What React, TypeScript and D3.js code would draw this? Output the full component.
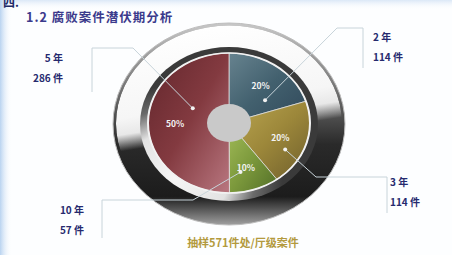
import React from 'react';
import * as d3 from 'd3';

const periods = ['2 年', '3 年', '10 年', '5 年'];
const counts = [114, 114, 57, 286];
const shares = ['20%', '20%', '10%', '50%'];
const title = '1.2 腐败案件潜伏期分析';
const footnote = '抽样571件处/厅级案件';

const W = 452;
const H = 255;
const cx = 229;
const cy = 123;
const rx = 81;
const ry = 70;
const k = ry / rx;

// slice fills (gradient stops), same order as the data
const sliceStops = [
  ['#67838f', '#42606e', '#30485a'],
  ['#bca852', '#9c873a', '#6e5e2c'],
  ['#a2bc58', '#7c993c', '#526e28'],
  ['#62262c', '#833a40', '#b97780'],
];

// leader layout: where the dot sits inside its slice, elbow, end of the stem, label anchor
const leaders = [
  { frac: 0.75, r: 44.6, elbow: [337, 28], stem: [363, 28, 68], text: [373, 41], anchor: 'start' },
  { frac: 0.65, r: 64, elbow: [316, 177], stem: [387, 177, 213], text: [390, 186], anchor: 'start' },
  { frac: 0.69, r: 58, elbow: [193, 200], stem: [102, 200, 238], text: [84, 214], anchor: 'end' },
  { frac: 0.64, r: 40, elbow: [133, 48], stem: [92, 48, 92], text: [63, 62], anchor: 'end' },
];

const App = () => {
  const pie = d3.pie<number>().sort(null).value((d) => d);
  const arcs = pie(counts);
  const arc = d3.arc<d3.PieArcDatum<number>>().innerRadius(0).outerRadius(rx);
  const labelArc = d3.arc<d3.PieArcDatum<number>>().innerRadius(54).outerRadius(54);

  const toScreen = (a: number, r: number) => [cx + r * Math.sin(a), cy - r * Math.cos(a) * k];

  const font = '"Noto Sans CJK SC", "Noto Sans", sans-serif';
  const leaderColor = 'rgb(200, 212, 218)';

  return (
    <svg width={W} height={H} style={{ position: 'absolute', left: 0, top: 0, display: 'block' }}>
      <defs>
        <linearGradient id="bgLeft" x1="0" y1="0" x2="1" y2="0">
          <stop offset="0" stopColor="#b9d3f0" />
          <stop offset="1" stopColor="#ffffff" stopOpacity="0" />
        </linearGradient>
        <linearGradient id="bgTop" x1="0" y1="0" x2="0" y2="1">
          <stop offset="0" stopColor="#dbe8f7" />
          <stop offset="1" stopColor="#ffffff" stopOpacity="0" />
        </linearGradient>
        <linearGradient id="body" x1="0" y1="0" x2="0" y2="1">
          <stop offset="0" stopColor="#c8c8c8" />
          <stop offset="0.3" stopColor="#7a7a7a" />
          <stop offset="0.6" stopColor="#2a2a2a" />
          <stop offset="0.86" stopColor="#1c1c1c" />
          <stop offset="1" stopColor="#a0a0a0" />
        </linearGradient>
        <linearGradient id="lip" gradientUnits="userSpaceOnUse" x1="229" y1="20" x2="260" y2="220">
          <stop offset="0" stopColor="#ffffff" />
          <stop offset="0.4" stopColor="#f6f6f6" />
          <stop offset="0.48" stopColor="#e8e8e8" />
          <stop offset="0.56" stopColor="#e8e8e8" stopOpacity="0" />
        </linearGradient>
        <radialGradient id="bowl" cx="0.2" cy="0.85" r="0.6">
          <stop offset="0" stopColor="#f6f6f6" />
          <stop offset="0.5" stopColor="#e2e2e2" />
          <stop offset="0.75" stopColor="#6a6a6a" />
          <stop offset="1" stopColor="#3a3a3a" />
        </radialGradient>
        <clipPath id="bodyClip">
          <ellipse cx={cx} cy={cy + 0.5} rx={113} ry={98} />
        </clipPath>
        {sliceStops.map((s, i) => (
          <linearGradient key={i} id={'slice' + i} x1="0" y1="0" x2="1" y2="1">
            <stop offset="0" stopColor={s[0]} />
            <stop offset="0.5" stopColor={s[1]} />
            <stop offset="1" stopColor={s[2]} />
          </linearGradient>
        ))}
      </defs>

      <rect width={W} height={H} fill="#fdfeff" />
      <rect width={W} height={10} fill="url(#bgTop)" />
      <rect width={12} height={H} fill="url(#bgLeft)" />

      <text x={3} y={7} fontFamily={font} fontWeight="bold" fontSize={12} fill="#1f2a66">四.</text>

      <text x={26} y={22} fontFamily={font} fontWeight="bold" fontSize={12.5} fill="#3b3a8c" letterSpacing="1">
        {title}
      </text>

      {/* bezel */}
      <ellipse cx={cx} cy={cy + 1} rx={116} ry={101} fill="url(#body)" stroke="#bdbdbd" strokeWidth={1} />
      <ellipse cx={cx} cy={cy + 0.5} rx={113} ry={98} fill="url(#lip)" clipPath="url(#bodyClip)" />
      <ellipse cx={cx} cy={cy + 1} rx={89} ry={77} fill="url(#bowl)" />

      {/* pie */}
      <g transform={`translate(${cx},${cy}) scale(1,${k})`}>
        {arcs.map((a, i) => (
          <path key={i} d={arc(a) || ''} fill={`url(#slice${i})`} stroke="#e6e6e6" strokeWidth={0.8} />
        ))}
        <circle r={rx} fill="none" stroke="#f2f2f2" strokeWidth={2} />
        <circle r={22} fill="#c9c9c9" />
      </g>

      {arcs.map((a, i) => {
        const [lx, ly] = labelArc.centroid(a);
        return (
          <text
            key={'p' + i}
            x={cx + lx}
            y={cy + ly * k}
            textAnchor="middle"
            dominantBaseline="central"
            fontFamily={font}
            fontWeight="bold"
            fontSize={8.5}
            fill="#f4f4f4"
          >
            {shares[i]}
          </text>
        );
      })}

      {/* leaders: lines first, then dots and labels */}
      {arcs.map((a, i) => {
        const L = leaders[i];
        const ang = a.startAngle + (a.endAngle - a.startAngle) * L.frac;
        const [dx, dy] = toScreen(ang, L.r);
        const [sx, sy0, sy1] = L.stem;
        const d = d3.line()([[dx, dy], [L.elbow[0], L.elbow[1]], [sx, sy0], [sx, sy1]]) || '';
        return (
          <path key={'l' + i} d={d} style={{ fill: 'none', stroke: leaderColor, strokeWidth: 1 }} />
        );
      })}
      {arcs.map((a, i) => {
        const L = leaders[i];
        const ang = a.startAngle + (a.endAngle - a.startAngle) * L.frac;
        const [dx, dy] = toScreen(ang, L.r);
        return (
          <g key={'t' + i}>
            <circle cx={dx} cy={dy} r={2} fill="#f2f2f2" />
            <text
              x={L.text[0]}
              y={L.text[1]}
              textAnchor={L.anchor}
              fontFamily={font}
              fontWeight="bold"
              fontSize={10}
              fill="#262a6e"
            >
              <tspan x={L.text[0]}>{periods[i]}</tspan>
              <tspan x={L.text[0]} dy={20}>{counts[i]} 件</tspan>
            </text>
          </g>
        );
      })}

      <text x={243} y={247} textAnchor="middle" fontFamily={font} fontWeight="bold" fontSize={11} fill="#b39a3e">
        {footnote}
      </text>
    </svg>
  );
};

export default App;
